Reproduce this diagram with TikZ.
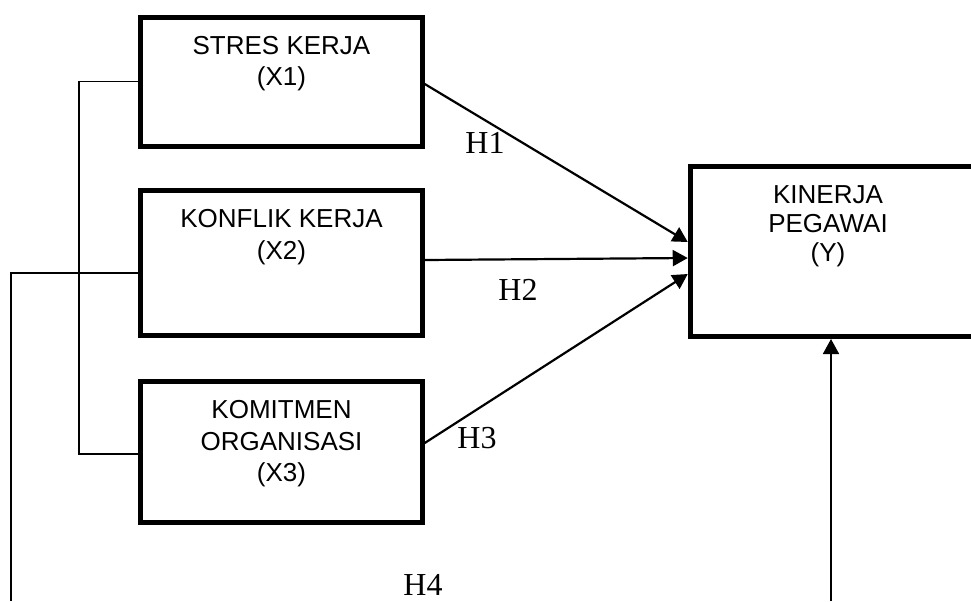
\documentclass[tikz,border=0pt]{standalone}
\usepackage{fontspec}
\setmainfont{Liberation Serif}
\newfontfamily\arialfont{Liberation Sans}
\usetikzlibrary{arrows.meta,positioning}

\tikzset{
  kotak/.style={draw, line width=2.5pt, inner sep=0pt, minimum width=140.75pt},
  tulisan/.style={font=\arialfont\fontsize{13}{15.75}\selectfont, align=center, inner sep=0pt, anchor=north},
  garis/.style={line width=0.85pt},
  panah/.style={line width=1.1pt, -{Triangle[length=7.5pt,width=8pt]}},
  panahtipis/.style={line width=0.85pt, -{Triangle[length=7.5pt,width=8pt]}},
  hipo/.style={font=\fontsize{16}{19}\selectfont, inner sep=0pt}
}

\begin{document}
\begin{tikzpicture}[x=0.5pt, y=-0.5pt] %% coordinate in pixel

\clip (0,0) rectangle (971,601);

% variabel bebas
\node[kotak, minimum height=64.5pt] (x1) at (281.5,81.5) {};
\node[kotak, minimum height=72.65pt] (x2) at (281.5,263) {};
\node[kotak, minimum height=70.5pt] (x3) at (281.5,452) {};
% variabel terikat
\node[kotak, minimum width=142.75pt, minimum height=85pt] (y) at (833,251.5) {};

\node[tulisan] (tx1) at ([yshift=-10.6pt]x1.north) {STRES KERJA\\(X1)};
\node[tulisan] (tx2) at ([yshift=-10.6pt]x2.north) {KONFLIK KERJA\\(X2)};
\node[tulisan] (tx3) at ([yshift=-10.6pt]x3.north) {KOMITMEN\\ORGANISASI\\(X3)};
\node[tulisan, font=\arialfont\fontsize{13}{14.5}\selectfont] (ty) at ([xshift=-2.5pt, yshift=-10.6pt]y.north) {KINERJA\\PEGAWAI\\(Y)};

% panah H1 - H3
\draw[panah] ([yshift=-1.25pt]x1.east) -- ([yshift=4.75pt]y.west);
\draw[panah] ([yshift=1.5pt]x2.east) -- ([yshift=-3.25pt]y.west);
\draw[panah] ([yshift=4.5pt]x3.east) -- ([yshift=-11.25pt]y.west);

% kurung kiri X1 - X3
\coordinate (b1) at (79,82);
\coordinate (b3) at (79,454);
\draw[garis] (x1.west) -- (x1.west -| b1) -- (b3) -- (b3 -| x3.west);

% garis H4
\coordinate (kiri) at (11,601);
\draw[garis] ([yshift=-5pt]x2.west) -| (kiri);
\coordinate (bawah) at (831,601);
\draw[panahtipis] (bawah) -- (bawah |- y.south);

\node[hipo] (h1) at (485,143) {H1};
\node[hipo] (h2) at (518,290) {H2};
\node[hipo] (h3) at (477,438) {H3};
\node[hipo] (h4) at (423,585) {H4};

\end{tikzpicture}
\end{document}
